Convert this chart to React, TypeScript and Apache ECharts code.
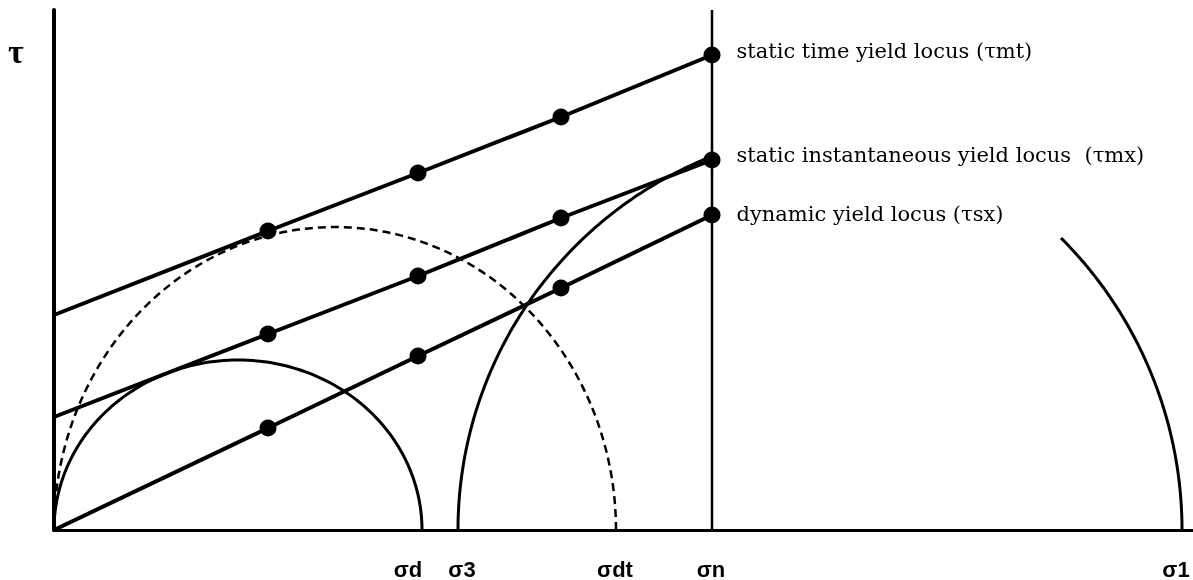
import React, { useEffect, useRef } from "react";
import * as echarts from "echarts";

// ---- data (σ, τ in drawing units) ----
const dotSigma = [214, 364, 507, 658];
const tauMt = [215, 299, 357, 413, 475]; // first value = intercept at σ = 0
const tauMx = [113, 196, 254, 312, 370];
const tauSx = [0, 102, 174, 242, 315];

const locusNames = [
  "static time yield locus (τmt)",
  "static instantaneous yield locus  (τmx)",
  "dynamic yield locus (τsx)",
];

const sigmaNames = ["σd", "σ3", "σdt", "σn", "σ1"];
const sigmaValues = [367, 404, 561, 658, 1128];

// Mohr circles: [centre σ, radius along σ, radius along τ, start angle°, end angle°]
const circleSmall = [184, 184, 170, 0, 180];
const circleDashed = [281, 281, 303, 0, 180];
const circleRight = [806, 402, 402, 111, 180];
const circleBig = [715, 413, 413, 0, 45];

const X_MAX = 1139;
const Y_MAX = 520;

function arcPoints(c: number[], n = 120) {
  const [cx, rx, ry, a0, a1] = c;
  const pts: number[][] = [];
  for (let i = 0; i <= n; i++) {
    const t = ((a0 + ((a1 - a0) * i) / n) * Math.PI) / 180;
    pts.push([cx + rx * Math.cos(t), ry * Math.sin(t)]);
  }
  return pts;
}

const labelOffsetsX = [-13, 4, 0, -1, -6];
const locusLabelDy = [-4, -5, -1];

export default function App() {
  const ref = useRef<HTMLDivElement>(null);
  useEffect(() => {
    if (!ref.current) return;
    const chart = echarts.init(ref.current, undefined, { renderer: "svg" });

    const locusSeries = [tauMt, tauMx, tauSx].map((tau, k) => ({
      type: "line",
      data: tau.map((v, i) => {
        const s = i === 0 ? 0 : dotSigma[i - 1];
        const item: any = { value: [s, v] };
        if (i === 0) item.symbol = "none";
        if (i === tau.length - 1) {
          item.label = {
            show: true,
            position: "right",
            distance: 16,
            offset: [0, locusLabelDy[k]],
            formatter: locusNames[k],
            fontFamily: "DejaVu Serif",
            fontSize: 21,
            color: "#000",
          };
        }
        return item;
      }),
      symbol: "circle",
      symbolSize: 17,
      showSymbol: true,
      itemStyle: { color: "#000" },
      lineStyle: { color: "#000", width: 4 },
      z: 5,
    }));

    const circleSeries = [
      { c: circleSmall, dashed: false },
      { c: circleDashed, dashed: true },
      { c: circleRight, dashed: false },
      { c: circleBig, dashed: false },
    ].map((o) => ({
      type: "line",
      data: arcPoints(o.c),
      showSymbol: false,
      symbol: "none",
      smooth: false,
      lineStyle: {
        color: "#000",
        width: o.dashed ? 2.5 : 3,
        type: o.dashed ? [8, 5] : "solid",
      },
      z: 3,
    }));

    chart.setOption({
      animation: false,
      grid: { left: 54, right: 0, top: 10, bottom: 50 },
      xAxis: {
        type: "value",
        min: 0,
        max: X_MAX,
        axisLine: { show: true, onZero: false, lineStyle: { color: "#000", width: 3 } },
        axisTick: { show: false },
        axisLabel: { show: false },
        splitLine: { show: false },
      },
      yAxis: {
        type: "value",
        min: 0,
        max: Y_MAX,
        axisLine: { show: true, onZero: false, lineStyle: { color: "#000", width: 4 } },
        axisTick: { show: false },
        axisLabel: { show: false },
        splitLine: { show: false },
      },
      graphic: [
        {
          type: "text",
          left: 8,
          top: 34,
          style: {
            text: "τ",
            fontFamily: "Liberation Serif",
            fontWeight: "bold",
            fontSize: 34,
            fill: "#000",
          },
        },
      ],
      series: [
        {
          type: "line",
          data: [
            [sigmaValues[3], 0],
            [sigmaValues[3], Y_MAX],
          ],
          showSymbol: false,
          symbol: "none",
          lineStyle: { color: "#000", width: 2.5 },
          z: 2,
        },
        ...circleSeries,
        ...locusSeries,
        {
          type: "scatter",
          data: sigmaValues.map((s, i) => ({
            value: [s, 0],
            label: { formatter: sigmaNames[i], offset: [labelOffsetsX[i], 39] },
          })),
          symbolSize: 1,
          itemStyle: { color: "rgba(0,0,0,0)", opacity: 1 },
          label: {
            show: true,
            position: "inside",
            fontFamily: "Liberation Sans",
            fontWeight: "bold",
            fontSize: 22,
            color: "#000",
            opacity: 1,
            textBorderWidth: 0,
          },
          z: 6,
        },
      ],
    });
    return () => chart.dispose();
  }, []);
  return (
    <div
      ref={ref}
      style={{ position: "fixed", left: 0, top: 0, width: 1193, height: 580 }}
    />
  );
}
